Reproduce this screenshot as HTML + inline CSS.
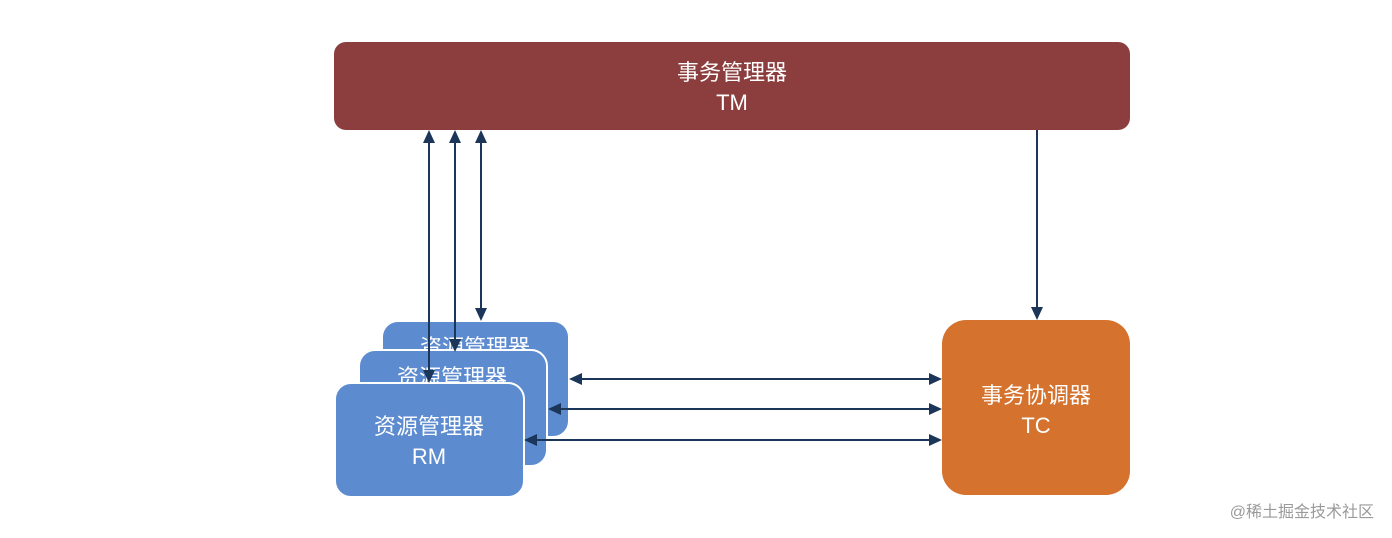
<!DOCTYPE html>
<html><head><meta charset="utf-8"><style>
html,body{margin:0;padding:0;background:#fff;}
svg{display:block;}
text{font-family:"Liberation Sans","Noto Sans CJK SC",sans-serif;fill:#fff;}
</style></head><body>
<svg width="1392" height="538" viewBox="0 0 1392 538" xmlns="http://www.w3.org/2000/svg">
<defs>
<marker id="a" viewBox="0 0 10 10" refX="10" refY="5" markerWidth="5" markerHeight="5" orient="auto-start-reverse" markerUnits="userSpaceOnUse">
</marker>
</defs>
<rect x="334" y="42" width="796" height="88" rx="12" fill="#8b3e3d"/>
<text x="732" y="80" font-size="22" text-anchor="middle">事务管理器</text>
<text x="732" y="110" font-size="22" text-anchor="middle">TM</text>

<rect x="382" y="321" width="187" height="116" rx="16" fill="#5c8bcf" stroke="#fff" stroke-width="2"/>
<text x="475" y="355" font-size="22" text-anchor="middle">资源管理器</text>
<rect x="359" y="350" width="188" height="116" rx="16" fill="#5c8bcf" stroke="#fff" stroke-width="2"/>
<text x="452" y="385" font-size="22" text-anchor="middle">资源管理器</text>
<rect x="335" y="383" width="189" height="114" rx="16" fill="#5c8bcf" stroke="#fff" stroke-width="2"/>
<text x="429" y="434" font-size="22" text-anchor="middle">资源管理器</text>
<text x="429" y="464" font-size="22" text-anchor="middle">RM</text>

<rect x="942" y="320" width="188" height="175" rx="24" fill="#d4722e"/>
<text x="1036" y="403" font-size="22" text-anchor="middle">事务协调器</text>
<text x="1036" y="433" font-size="22" text-anchor="middle">TC</text>

<g stroke="#1c3659" stroke-width="2" fill="none">
<line x1="429" y1="142" x2="429" y2="371"/>
<line x1="455" y1="142" x2="455" y2="340"/>
<line x1="481" y1="142" x2="481" y2="309"/>
<line x1="1037" y1="130" x2="1037" y2="308"/>
<line x1="581" y1="379" x2="930" y2="379"/>
<line x1="560" y1="409" x2="930" y2="409"/>
<line x1="536" y1="440" x2="930" y2="440"/>
</g>
<g fill="#1c3659">
<polygon points="429,130 423,143 435,143"/><polygon points="429,383 423,370 435,370"/>
<polygon points="455,130 449,143 461,143"/><polygon points="455,352 449,339 461,339"/>
<polygon points="481,130 475,143 487,143"/><polygon points="481,321 475,308 487,308"/>
<polygon points="1037,320 1031,307 1043,307"/>
<polygon points="569,379 582,373 582,385"/><polygon points="942,379 929,373 929,385"/>
<polygon points="548,409 561,403 561,415"/><polygon points="942,409 929,403 929,415"/>
<polygon points="524,440 537,434 537,446"/><polygon points="942,440 929,434 929,446"/>
</g>
<text x="1374" y="517" font-size="16" text-anchor="end" style="fill:#9a9a9a">@稀土掘金技术社区</text>
</svg>
</body></html>
